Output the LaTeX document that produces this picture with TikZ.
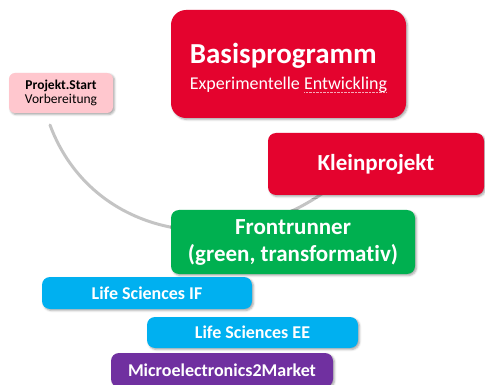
\documentclass[tikz,border=0pt]{standalone}
\usepackage{fontspec}
\setmainfont{Carlito}[Ligatures=NoCommon]
\usetikzlibrary{shadows.blur}

\definecolor{fundred}{HTML}{E4032E}
\definecolor{startpink}{HTML}{FFC7CE}
\definecolor{frontgreen}{HTML}{00B050}
\definecolor{lifecyan}{HTML}{00B0F0}
\definecolor{mtmpurple}{HTML}{7030A0}
\definecolor{arcgray}{HTML}{C4C4C4}
\definecolor{spellpink}{HTML}{F6A9B8}

\newcommand\spellmark[1]{\setbox0\hbox{#1}\rlap{\textcolor{spellpink}{\hbox to\wd0{\leaders\hbox to 1.4pt{\hss\rule[-2.8pt]{0.7pt}{0.7pt}\hss}\hfill}}}\box0}

\begin{document}
\begin{tikzpicture}[x=1pt,y=-1pt,
  box/.style={rounded corners=8pt, inner sep=0pt, text=white,
    blur shadow={shadow xshift=1.5pt, shadow yshift=-1.5pt, shadow blur radius=2pt, shadow opacity=35}},
  bigfont/.style={font=\bfseries\fontsize{23}{27}\selectfont},
  smallfont/.style={font=\bfseries\fontsize{18}{21}\selectfont}]
  \useasboundingbox (0,0) rectangle (485,385);
  % gray arc behind the boxes
  \coordinate (arcstart) at (50,125);
  \coordinate (arcend) at (330,188);
  \draw [arcgray, line width=3pt, line cap=round] (arcstart) .. controls (91.6,237) and (230,263) .. (arcend);
  % boxes
  \node [box, fill=startpink, text=black, rounded corners=6pt, minimum width=104pt, minimum height=40pt,
    align=center, font=\fontsize{13.5}{14.5}\selectfont] (start) at (61,93) {\textbf{Projekt.Start}\\Vorbereitung};
  \node [box, fill=fundred, rounded corners=15pt, minimum width=235pt, minimum height=108pt,
    align=left, font=\fontsize{18}{26}\selectfont] (basis) at (288.5,64)
    {\rule{0pt}{28pt}{\bfseries\fontsize{29}{29}\selectfont Basisprogramm}\\Experimentelle \spellmark{Entwickling}};
  \node [box, fill=fundred, bigfont, minimum width=216pt, minimum height=62pt] (klein) at (376,164) {Kleinprojekt};
  \node [box, fill=frontgreen, bigfont, minimum width=244pt, minimum height=64pt, align=center] (front) at (293,242)
    {Frontrunner\\(green, transformativ)};
  \node [box, fill=lifecyan, smallfont, minimum width=210pt, minimum height=32pt] (lsif) at (147,293) {Life Sciences IF};
  \node [box, fill=lifecyan, smallfont, minimum width=211pt, minimum height=31pt] (lsee) at (252.5,332.5) {Life Sciences EE};
  \node [box, fill=mtmpurple, smallfont, minimum width=222pt, minimum height=34pt] (mtm) at (222,370) {Microelectronics2Market};
\end{tikzpicture}
\end{document}
